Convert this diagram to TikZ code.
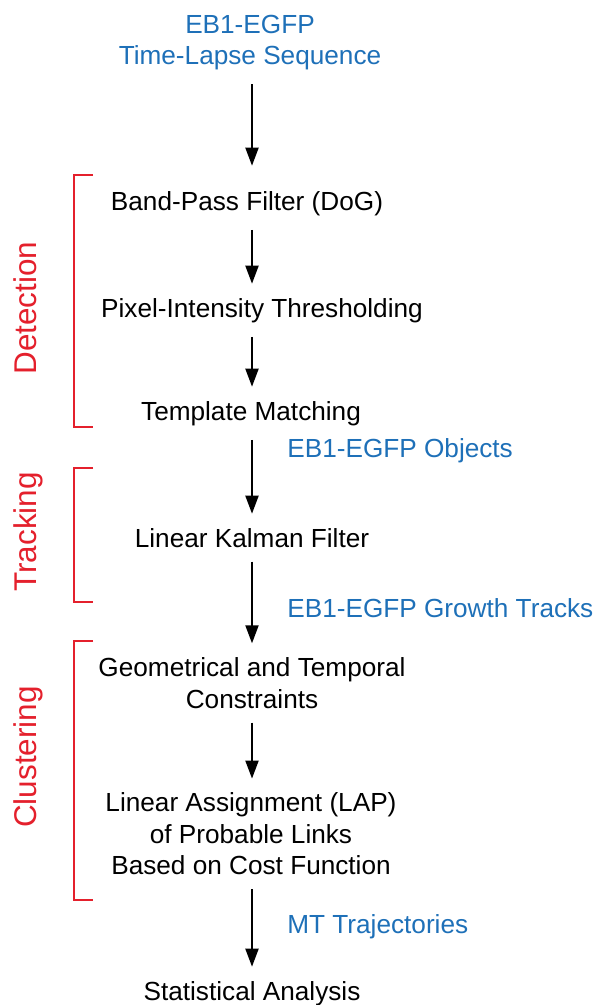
\documentclass[tikz,border=0pt]{standalone}
\usepackage{fontspec}
\setmainfont{Liberation Sans}
\usetikzlibrary{arrows.meta}
\definecolor{stepblue}{RGB}{30,112,184}
\definecolor{phasered}{RGB}{228,32,44}
\begin{document}
\begin{tikzpicture}[x=.02cm, y=-.02cm, >={Triangle[length=.36cm,width=.26cm]},
    txt/.style={font=\fontsize{14.9}{17.9}\selectfont, align=center, inner xsep=0pt, inner ysep=.28cm},
    data/.style={font=\fontsize{14.9}{17.9}\selectfont, text=stepblue, inner sep=0pt, anchor=base west},
    phase/.style={font=\fontsize{17.9}{21}\selectfont, text=phasered, rotate=90, inner sep=0pt},
    arr/.style={->, line width=.04cm},
    brace/.style={phasered, line width=.04cm}]
    \useasboundingbox (0,0) rectangle (600,1005);
    \coordinate (ax) at (252,0);
    % processing steps
    \node[txt, text=stepblue] (seq) at (250,42.4) {EB1-EGFP\\Time-Lapse Sequence};
    \node[txt, anchor=base] (dog) at (247,210) {Band-Pass Filter (DoG)};
    \node[txt, anchor=base] (pix) at (262,317) {Pixel-Intensity Thresholding};
    \node[txt, anchor=base] (tm) at (251,420) {Template Matching};
    \node[txt, anchor=base] (kal) at (252,547) {Linear Kalman Filter};
    \node[txt] (geo) at (252,683) {Geometrical and Temporal\\Constraints};
    \node[txt] (lap) at (251,834) {Linear Assignment (LAP)\\of Probable Links\\Based on Cost Function};
    \node[txt, anchor=base] (stat) at (252,1000) {Statistical Analysis};
    % arrows down the pipeline
    \draw[arr, shorten >=.22cm](seq.south -| ax)--(dog.north -| ax);
    \foreach \a/\b in {dog/pix,pix/tm,tm/kal,kal/geo,geo/lap,lap/stat}
    {
        \draw[arr](\a.south -| ax)--(\b.north -| ax);
    }
    % data passed on
    \node[data] (obj) at (287,457) {EB1-EGFP Objects};
    \node[data] (tracks) at (287,617) {EB1-EGFP Growth Tracks};
    \node[data] (traj) at (287,933) {MT Trajectories};
    % phases
    \foreach \t/\b in {175/427, 468/602, 641/900}
    {
        \draw[brace](93,\t)-|(74,\b)--(93,\b);
    }
    \node[phase] (det) at (25,308) {Detection};
    \node[phase] (trkg) at (28.5,532) {Tracking};
    \node[phase] (clus) at (28.5,757) {Clustering};
\end{tikzpicture}
\end{document}
